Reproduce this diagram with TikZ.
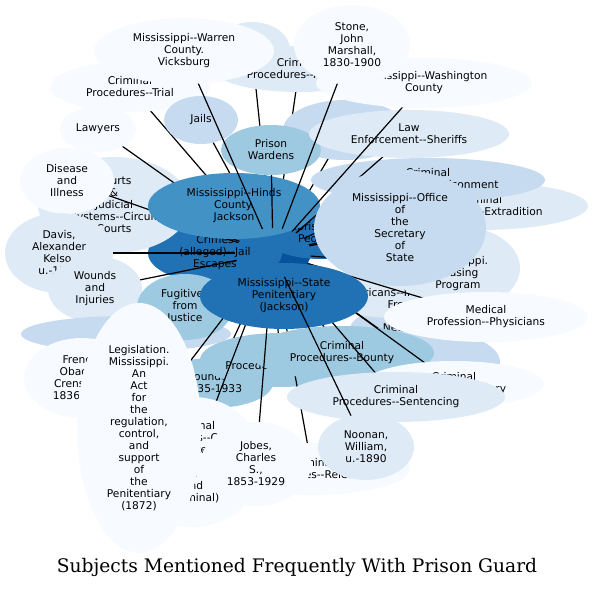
\documentclass[tikz,border=0pt]{standalone}
\usepackage{fontspec}
\setmainfont{DejaVu Sans}
\newfontfamily\labelfont{DejaVu Sans}
\newfontfamily\titlefont{DejaVu Serif}
\usetikzlibrary{shapes.geometric}

\definecolor{blue0}{HTML}{F7FBFF}
\definecolor{blue1}{HTML}{DEEBF7}
\definecolor{blue2}{HTML}{C6DBEF}
\definecolor{blue3}{HTML}{9ECAE1}
\definecolor{blue5}{HTML}{4292C6}
\definecolor{blue6}{HTML}{2171B5}
\definecolor{blue7}{HTML}{08519C}

\tikzset{
  bubble/.style={ellipse, inner sep=0pt, outer sep=0pt, align=center,
    font=\labelfont\fontsize{8}{9}\selectfont},
  link/.style={draw=black, line width=0.9pt}
}

% subject bubble: name, x, y, rx, ry, fill, label
\newcommand{\subj}[7]{%
  \coordinate (#1-c) at (#2,#3);
  \draw[link] (hub) -- (#1-c);
  \node[bubble, fill=#6, minimum width=#4*1.5pt, minimum height=#5*1.5pt] (#1) at (#1-c) {#7};
}

\begin{document}
\begin{tikzpicture}[x=0.75pt, y=-0.75pt]
  \useasboundingbox (0,0) rectangle (594,589);
  \node[bubble, fill=blue7, minimum width=57pt, minimum height=37.5pt] (hub) at (273,253) {};

  \subj{crimes}{215}{253}{67}{30}{blue6}{Crimes\\(alleged)--Jail\\Escapes}
  \subj{peon}{321}{234}{60}{25}{blue6}{Imprisonment\\Peonage}
  \subj{courts}{114}{205}{76}{48}{blue1}{Courts\\\&\\Judicial\\Systems--Circuit\\Courts}
  \subj{trial}{130}{87}{80}{25}{blue0}{Criminal\\Procedures--Trial}
  \subj{lawyers}{98}{129}{38}{23}{blue0}{Lawyers}
  \subj{jails}{201}{120}{37}{24}{blue2}{Jails}
  \subj{disease}{67}{181}{47}{33}{blue0}{Disease\\and\\Illness}
  \subj{topleft}{252}{50}{38}{28}{blue1}{}
  \subj{arrests}{299}{69}{86}{23}{blue1}{Criminal\\Procedures--Arrests}
  \subj{lawenf}{345}{130}{62}{30}{blue2}{}
  \subj{hinds}{234}{206}{86}{33}{blue5}{Mississippi--Hinds\\County.\\Jackson}
  \subj{wardens}{271}{150}{50}{25}{blue3}{Prison\\Wardens}
  \subj{warren}{184}{51}{90}{33}{blue0}{Mississippi--Warren\\County.\\Vicksburg}
  \subj{davis}{59}{253}{54}{40}{blue1}{Davis,\\Alexander\\Kelso,\\u.-1876}
  \subj{wounds}{95}{289}{47}{33}{blue1}{Wounds\\and\\Injuries}
  \subj{extrad}{480}{206}{108}{24}{blue1}{Criminal\\Procedures--Extradition}
  \subj{impris}{428}{180}{117}{22}{blue2}{Criminal\\Procedures--Imprisonment}
  \subj{sheriffs}{409}{134}{100}{24}{blue1}{Law\\Enforcement--Sheriffs}
  \subj{negroes}{405}{329}{55}{22}{blue2}{Negroes}
  \subj{afam}{399}{293}{62}{25}{blue1}{African\\Americans--Interracial\\Free}
  \subj{reform}{425}{362}{75}{32}{blue2}{}
  \subj{leasing}{458}{268}{62}{42}{blue1}{Convict\\Mississippi.\\Leasing\\Program}
  \subj{secretary}{400}{228}{86}{58}{blue2}{Mississippi--Office\\of\\the\\Secretary\\of\\State}
  \subj{washington}{424}{83}{108}{25}{blue0}{Mississippi--Washington\\County}
  \subj{stone}{352}{45}{58}{40}{blue0}{Stone,\\John\\Marshall,\\1830-1900}
  \subj{medical}{486}{317}{102}{25}{blue0}{Medical\\Profession--Physicians}
  \subj{band}{126}{334}{105}{18}{blue2}{}
  \subj{french}{82}{378}{58}{40}{blue0}{French,\\Obadiah\\Crenshaw,\\1836-1908}
  \subj{fugitives}{185}{307}{48}{33}{blue3}{Fugitives\\from\\Justice}
  \subj{founders}{213}{383}{60}{25}{blue3}{Founders\\1835-1933}
  \subj{pardons}{280}{360}{80}{27}{blue3}{Criminal\\Procedures--Pardons}
  \subj{release}{312}{469}{98}{26}{blue0}{Criminal\\Procedures--Release}
  \subj{bounty}{342}{353}{92}{27}{blue3}{Criminal\\Procedures--Bounty}
  \subj{perjury}{454}{384}{90}{23}{blue0}{Criminal\\Procedures--Perjury}
  \subj{sentencing}{396}{397}{109}{25}{blue1}{Criminal\\Procedures--Sentencing}
  \subj{cases}{193}{462}{70}{65}{blue0}{Criminal\\Procedures--Cases\\State\\of\\v.\\and\\(Criminal)}
  \subj{legislation}{139}{428}{62}{125}{blue0}{Legislation.\\Mississippi.\\An\\Act\\for\\the\\regulation,\\control,\\and\\support\\of\\the\\Penitentiary\\(1872)}
  \subj{jobes}{256}{464}{55}{42}{blue0}{Jobes,\\Charles\\S.,\\1853-1929}
  \subj{penitentiary}{284}{296}{84}{33}{blue6}{Mississippi--State\\Penitentiary\\(Jackson)}
  \subj{noonan}{366}{447}{48}{33}{blue1}{Noonan,\\William,\\u.-1890}

  \node[font=\titlefont\fontsize{14}{16}\selectfont] (title) at (297,567) {Subjects Mentioned Frequently With Prison Guard};
\end{tikzpicture}
\end{document}
